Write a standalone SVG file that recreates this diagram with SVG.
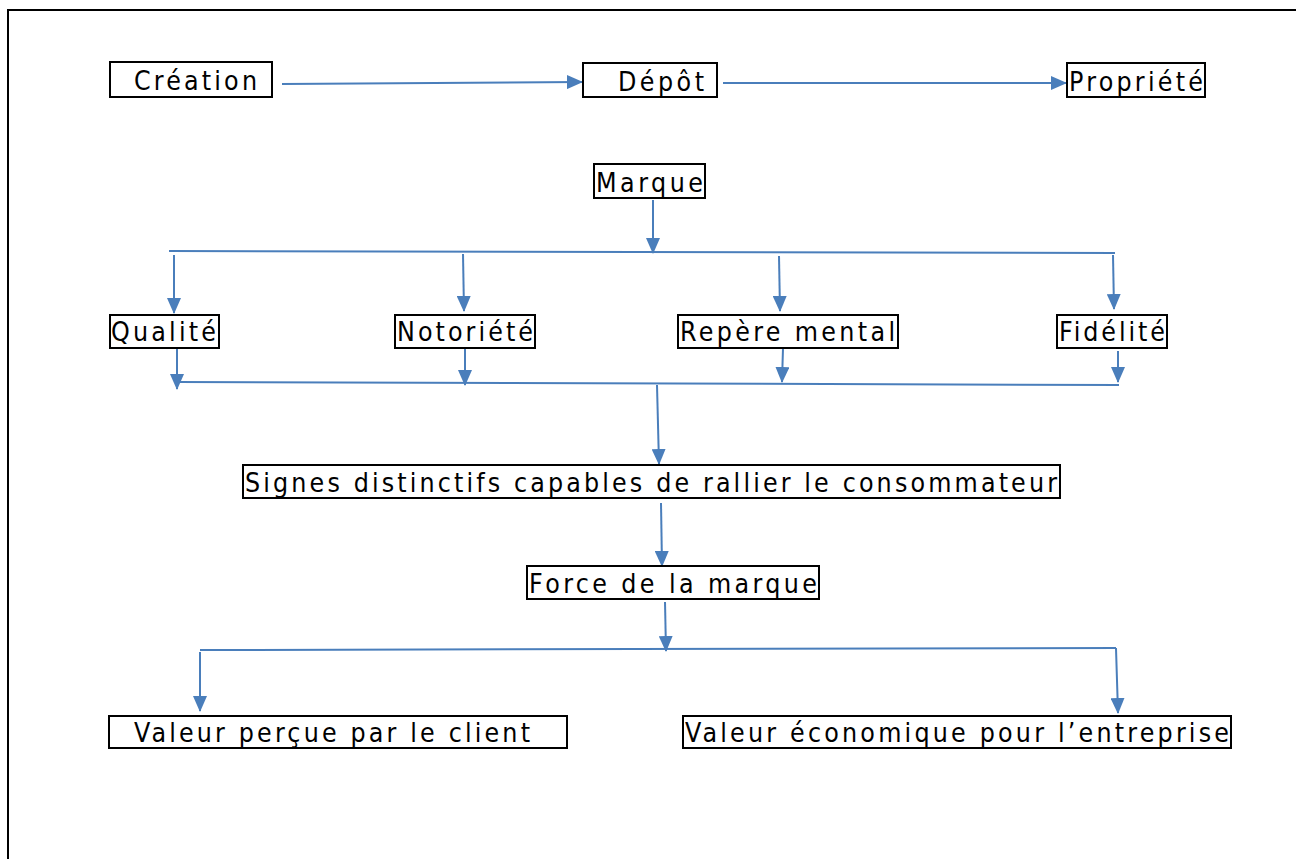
<svg xmlns="http://www.w3.org/2000/svg" width="1296" height="859" viewBox="0 0 1296 859">
<defs>
<style>
.box{fill:#fff;stroke:#000;stroke-width:2}
.t{font-family:"DejaVu Sans Condensed","DejaVu Sans",sans-serif;font-size:26.5px;fill:#000}
.c{stroke:#4a7ebb;stroke-width:2;fill:none}
.a{stroke:#4a7ebb;stroke-width:2;fill:none;marker-end:url(#ah)}
</style>
<marker id="ah" markerUnits="userSpaceOnUse" markerWidth="16" markerHeight="14" refX="15" refY="7" orient="auto">
<path d="M0,0 L16,7 L0,14 Z" fill="#4a7ebb"/>
</marker>
</defs>
<rect width="1296" height="859" fill="#fff"/>
<rect x="8" y="10" width="1300" height="860" fill="none" stroke="#000" stroke-width="2"/>

<g id="connectors">
<path class="a" d="M282,84 L582,82"/>
<path class="a" d="M723,83 L1066,83"/>
<path class="a" d="M653,200 L653,253"/>
<path class="c" d="M169,251 L1115,253"/>
<path class="a" d="M174,255 L174,313"/>
<path class="a" d="M463,254 L464,311"/>
<path class="a" d="M779,256 L780,311"/>
<path class="a" d="M1113,255 L1114,309"/>
<path class="a" d="M177,349 L177,389"/>
<path class="a" d="M465,349 L465,385"/>
<path class="a" d="M783,348 L782,382"/>
<path class="a" d="M1118,351 L1118,382"/>
<path class="c" d="M177,382 L1119,385"/>
<path class="a" d="M657,385 L659,464"/>
<path class="a" d="M661,503 L662,566"/>
<path class="a" d="M665,602 L666,651"/>
<path class="c" d="M200,650 L1116,648"/>
<path class="a" d="M200,652 L200,711"/>
<path class="a" d="M1116,648 L1118,713"/>
</g>

<g id="creation"><rect class="box" x="110" y="62" width="162" height="35"/><text class="t" x="134" y="90" textLength="123" lengthAdjust="spacing">Création</text></g>
<g id="depot"><rect class="box" x="583" y="63" width="134" height="34"/><text class="t" x="618" y="91" textLength="86" lengthAdjust="spacing">Dépôt</text></g>
<g id="propriete"><rect class="box" x="1067" y="63" width="138" height="34"/><text class="t" x="1069" y="91" textLength="134" lengthAdjust="spacing">Propriété</text></g>
<g id="marque"><rect class="box" x="594" y="164" width="111" height="34"/><text class="t" x="596" y="192" textLength="107" lengthAdjust="spacing">Marque</text></g>
<g id="qualite"><rect class="box" x="110" y="315" width="109" height="33"/><text class="t" x="111" y="341" textLength="105" lengthAdjust="spacing">Qualité</text></g>
<g id="notoriete"><rect class="box" x="395" y="315" width="140" height="33"/><text class="t" x="397" y="341" textLength="136" lengthAdjust="spacing">Notoriété</text></g>
<g id="repere"><rect class="box" x="678" y="315" width="220" height="33"/><text class="t" x="680" y="341" textLength="215" lengthAdjust="spacing">Repère mental</text></g>
<g id="fidelite"><rect class="box" x="1057" y="315" width="110" height="33"/><text class="t" x="1059" y="341" textLength="106" lengthAdjust="spacing">Fidélité</text></g>
<g id="signes"><rect class="box" x="243" y="465" width="817" height="33"/><text class="t" x="245" y="492" textLength="812" lengthAdjust="spacing">Signes distinctifs capables de rallier le consommateur</text></g>
<g id="force"><rect class="box" x="527" y="566" width="292" height="33"/><text class="t" x="529" y="593" textLength="288" lengthAdjust="spacing">Force de la marque</text></g>
<g id="valeur-client"><rect class="box" x="109" y="716" width="458" height="32"/><text class="t" x="134" y="742" textLength="396" lengthAdjust="spacing">Valeur perçue par le client</text></g>
<g id="valeur-eco"><rect class="box" x="683" y="716" width="548" height="32"/><text class="t" x="685" y="742" textLength="544" lengthAdjust="spacing">Valeur économique pour l’entreprise</text></g>
</svg>
